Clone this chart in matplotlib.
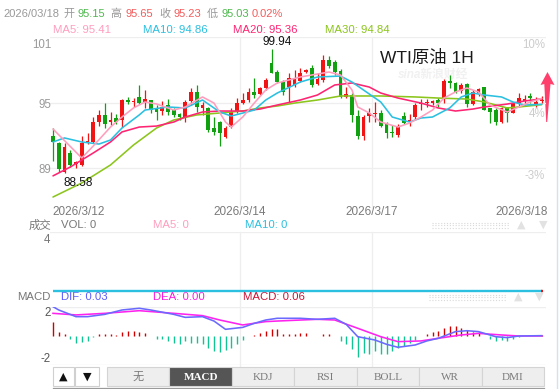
import matplotlib
matplotlib.use('Agg')
import matplotlib.pyplot as plt
from matplotlib.patches import Rectangle, Polygon

plt.rcParams['font.family'] = ['Liberation Sans', 'Noto Sans CJK SC', 'DejaVu Sans']

# ---------------- data ----------------
opens = [91.96, 91.32, 88.70, 90.40, 89.40, 89.30, 91.30, 91.40, 93.25, 93.90,
         93.25, 93.60, 93.43, 95.26, 95.10, 95.50, 95.08, 95.26, 94.50, 94.25,
         94.80, 94.34, 94.00, 93.70, 95.17, 96.00, 94.50, 94.50, 92.70, 93.25,
         91.90, 92.80, 94.16, 94.98, 95.26, 95.99, 95.81, 96.36, 98.66, 97.83,
         96.90, 96.45, 96.64, 97.00, 97.83, 98.20, 96.73, 97.10, 98.93, 98.75,
         97.92, 95.54, 95.72, 93.80, 91.96, 93.80, 94.00, 94.07, 93.06, 92.33,
         92.05, 93.80, 93.25, 93.70, 94.90, 94.98, 94.98, 95.26, 95.35, 97.00,
         96.82, 96.09, 96.73, 94.90, 95.90, 96.45, 94.50, 94.34, 93.25, 94.62,
         94.07, 95.00, 95.17, 95.60, 94.90, 95.15]
highs = [92.69, 91.40, 91.30, 90.67, 89.70, 92.00, 92.20, 93.70, 94.30, 95.00,
         94.16, 94.00, 95.35, 95.50, 95.40, 96.64, 96.20, 95.30, 94.80, 95.20,
         95.35, 94.50, 94.10, 95.26, 96.40, 96.64, 95.08, 94.60, 93.70, 93.30,
         92.90, 94.50, 95.45, 95.90, 96.36, 97.28, 96.45, 97.28, 99.94, 98.00,
         97.10, 97.74, 98.00, 98.20, 98.10, 98.50, 97.74, 99.40, 99.30, 98.93,
         98.10, 96.45, 95.90, 94.34, 93.89, 94.50, 95.08, 94.34, 93.25, 93.00,
         93.06, 94.16, 94.00, 94.98, 95.35, 95.35, 95.30, 95.45, 97.20, 97.55,
         96.90, 96.82, 96.82, 96.18, 96.36, 96.45, 94.50, 94.50, 94.62, 94.62,
         95.08, 95.90, 95.72, 95.90, 95.50, 95.65]
lows = [89.67, 88.65, 88.58, 89.10, 89.00, 89.20, 91.20, 91.30, 92.90, 92.70,
        93.00, 93.10, 92.80, 94.90, 94.60, 94.90, 94.50, 94.10, 93.43, 93.90,
        93.90, 93.70, 93.40, 93.25, 94.80, 94.16, 93.90, 92.30, 92.05, 91.00,
        91.80, 92.70, 94.10, 94.90, 95.08, 95.45, 95.72, 96.20, 97.70, 96.80,
        95.70, 95.08, 96.45, 96.90, 97.70, 96.45, 96.60, 96.90, 98.20, 97.55,
        95.45, 95.40, 93.25, 91.68, 91.59, 93.25, 93.25, 92.78, 91.77, 91.90,
        91.86, 93.06, 92.90, 93.50, 94.30, 94.60, 94.80, 94.62, 95.00, 96.36,
        95.90, 95.90, 94.60, 94.80, 95.64, 94.34, 93.15, 92.97, 93.15, 93.25,
        94.07, 94.62, 94.80, 95.00, 94.60, 95.03]
closes = [91.41, 88.97, 90.95, 89.30, 89.60, 91.30, 91.50, 93.25, 93.90, 93.06,
          93.43, 93.25, 95.26, 95.08, 95.20, 94.98, 95.35, 94.34, 94.16, 94.60,
          94.16, 93.89, 93.70, 95.08, 96.00, 94.62, 94.80, 92.50, 92.30, 92.20,
          92.70, 94.16, 94.98, 95.26, 95.99, 95.72, 96.36, 97.10, 97.74, 96.90,
          96.00, 97.28, 97.28, 97.74, 98.00, 96.64, 97.20, 98.93, 98.38, 97.83,
          95.54, 95.81, 93.89, 91.96, 93.70, 94.07, 94.10, 92.87, 92.23, 92.23,
          92.87, 93.15, 93.43, 94.80, 95.00, 95.08, 95.17, 94.98, 97.00, 96.80,
          96.00, 96.64, 94.90, 96.00, 96.27, 94.34, 94.16, 93.25, 94.50, 94.07,
          94.98, 95.45, 95.35, 95.45, 95.08, 95.23]
change_pct = "0.02%"
last_date = "2026/03/18"

ma5_idx = [0, 5, 7, 10, 12, 14, 16, 18, 21, 23, 26, 28, 30, 31, 33, 35, 37, 39,
           43, 48, 50, 52, 53, 55, 57, 60, 62, 64, 66, 68, 70, 72, 74, 76, 79, 81, 83, 85]
ma5_val = [92.60, 89.94, 91.04, 92.78, 93.70, 94.53, 95.08, 94.90, 94.34, 94.62,
           95.54, 94.98, 93.24, 92.78, 93.70, 94.98, 96.18, 96.82, 97.37, 97.83,
           97.55, 96.18, 94.62, 94.07, 93.24, 92.78, 93.15, 93.70, 94.34, 95.44,
           96.00, 96.36, 96.00, 94.80, 94.16, 94.62, 95.08, 95.41]
ma10_idx = [0, 2, 5, 8, 10, 12, 15, 16, 20, 23, 26, 29, 31, 35, 37, 39, 43, 46,
            50, 52, 54, 57, 59, 62, 64, 66, 69, 71, 73, 75, 78, 80, 82, 85]
ma10_val = [91.41, 91.78, 91.41, 91.22, 91.59, 92.69, 93.89, 94.34, 94.62, 94.53,
            95.26, 94.16, 93.79, 94.34, 95.26, 95.90, 96.91, 97.37, 97.46, 96.91,
            96.18, 95.08, 93.70, 93.24, 93.61, 93.70, 94.53, 95.54, 95.90, 95.72,
            95.54, 95.08, 94.80, 94.86]
ma20_idx = [0, 3, 7, 10, 12, 15, 18, 21, 23, 26, 29, 33, 36, 39, 43, 46, 49, 52,
            55, 57, 60, 64, 67, 70, 73, 75, 79, 82, 85]
ma20_val = [88.30, 89.11, 90.40, 91.41, 92.33, 92.78, 92.87, 93.24, 93.70, 94.16,
            94.25, 94.25, 94.43, 94.80, 95.26, 95.72, 96.64, 96.82, 96.45, 95.90,
            95.44, 94.98, 94.53, 94.25, 94.43, 94.62, 94.89, 95.17, 95.36]
ma30_idx = [0, 5, 10, 14, 18, 21, 25, 29, 33, 36, 39, 42, 46, 50, 54, 57, 63, 67,
            72, 75, 79, 81, 85]
ma30_val = [86.36, 87.65, 89.30, 91.13, 92.69, 93.43, 93.89, 94.07, 94.25, 94.53,
            94.71, 94.98, 95.26, 95.63, 95.63, 95.63, 95.54, 95.44, 95.35, 95.08,
            94.53, 94.62, 94.84]

vol_value = 0
vol_ma5 = 0
vol_ma10 = 0

dif_idx = [0, 1, 4, 6, 9, 12, 15, 17, 21, 23, 26, 28, 30, 33, 35, 37, 39, 43, 46,
           49, 51, 53, 56, 58, 60, 63, 65, 67, 70, 72, 74, 77, 79, 81, 85]
dif_val = [2.55, 2.26, 1.68, 1.68, 1.88, 2.26, 2.41, 2.26, 1.88, 1.62, 1.68, 1.30,
           0.58, 0.75, 1.10, 1.39, 1.54, 1.54, 1.45, 1.54, 1.01, -0.06, -0.35,
           -0.72, -0.98, -0.78, -0.43, -0.20, 0.38, 0.46, 0.38, -0.06, -0.14, 0.00, 0.03]
dea_idx = [0, 4, 9, 15, 21, 26, 29, 33, 37, 39, 46, 49, 53, 57, 60, 64, 67, 71,
           74, 78, 81, 85]
dea_val = [1.97, 1.83, 1.97, 2.20, 1.97, 1.77, 1.39, 0.96, 1.25, 1.30, 1.45, 1.39,
           0.67, -0.06, -0.49, -0.43, -0.20, 0.09, 0.23, 0.09, 0.00, 0.00]
macd_hist = [1.22, 0.35, 0.15, -0.29, -0.64, -0.52, -0.43, -0.05, 0.15, 0.15,
             0.15, 0.12, 0.35, 0.43, 0.43, 0.35, 0.29, 0.02, -0.23, -0.29,
             -0.43, -0.58, -0.72, -0.43, -0.58, -0.64, -0.72, -1.01, -1.30, -1.39,
             -1.25, -1.01, -0.72, -0.35, -0.02, 0.06, 0.23, 0.43, 0.58, 0.64,
             0.20, 0.15, 0.20, 0.29, 0.29, 0.02, 0.02, 0.15, 0.15, 0.01,
             -0.43, -0.72, -1.16, -1.80, -1.45, -1.59, -1.30, -1.59, -1.59, -1.30,
             -1.01, -0.87, -0.58, -0.35, 0.02, 0.15, 0.35, 0.43, 0.72, 0.87,
             0.87, 0.72, 0.52, 0.35, 0.35, 0.02, -0.23, -0.43, -0.35, -0.43,
             -0.29, -0.05, -0.01, 0.01, 0.03, 0.06]

price_ticks = [101, 95, 89]
pct_labels = ["10%", "4%", "-3%"]
pct_pos = [101, 94.7, 89]
date_labels = ["2026/3/12", "2026/3/14", "2026/3/17", "2026/3/18"]
date_pos = [0, 32.5, 55.5, 85]
vol_ticks = [4]
macd_ticks = [2, -2]
tabs = ["无", "MACD", "KDJ", "RSI", "BOLL", "WR", "DMI"]
title = "WTI原油 1H"

# ---------------- style ----------------
W, H = 559, 389
RED = '#f01414'
GREEN = '#10a010'
C_MA5 = '#ff9dbd'
C_MA10 = '#2bc0e0'
C_MA20 = '#ff2472'
C_MA30 = '#8cc51c'
GRID = '#eeeeee'
RED_T = '#f25c5c'
GREEN_T = '#4fb84f'
X0, DX = 53.0, 5.75          # pixel of candle 0, pixel per candle
L, R = 50, 546

fig = plt.figure(figsize=(W / 100, H / 100), dpi=100)
fig.patch.set_facecolor('white')

ov = fig.add_axes([0, 0, 1, 1])
ov.set_xlim(0, W)
ov.set_ylim(H, 0)
ov.axis('off')
ov.set_zorder(0)


def px_axes(top, bottom, z=2):
    ax = fig.add_axes([L / W, 1 - bottom / H, (R - L) / W, (bottom - top) / H])
    ax.set_zorder(z)
    ax.patch.set_alpha(0)
    ax.axis('off')
    ax.set_xlim((L - X0) / DX, (R - X0) / DX)
    return ax


def idx_px(i):
    return X0 + DX * i


# vertical day grid lines across panels
for p in date_pos[1:3]:
    xp = idx_px(p)
    ov.plot([xp, xp], [37, 208], color=GRID, lw=0.9, zorder=0)
    ov.plot([xp, xp], [232, 366], color=GRID, lw=0.9, zorder=0)

# ---------------- price panel ----------------
ax = px_axes(37, 200)
def ppx(y):
    return 99.94 - (y - 49) / 10.9
ax.set_ylim(ppx(200), ppx(37))
for t in price_ticks:
    ax.axhline(t, color=GRID, lw=0.9, zorder=0)

idx = list(range(len(closes)))
cols = [RED if c >= o else GREEN for o, c in zip(opens, closes)]
ax.vlines(idx, lows, highs, colors=cols, lw=0.9, zorder=3)
bottoms = [min(o, c) for o, c in zip(opens, closes)]
heights = [max(abs(c - o), 0.1) for o, c in zip(opens, closes)]
ax.bar(idx, heights, bottom=bottoms, width=0.62, color=cols, linewidth=0, zorder=4)

for xi, yv, cc in [(ma30_idx, ma30_val, C_MA30), (ma20_idx, ma20_val, C_MA20),
                   (ma10_idx, ma10_val, C_MA10), (ma5_idx, ma5_val, C_MA5)]:
    ax.plot(xi, yv, color=cc, lw=1.15, zorder=5, solid_capstyle='round')

hi = max(highs); hi_i = highs.index(hi)
lo = min(lows); lo_i = lows.index(lo)
ax.annotate(f"{hi:.2f}", xy=(hi_i, hi), xytext=(6, 1), textcoords='offset pixels',
            ha='center', va='bottom', fontsize=8.5, color='#111111', zorder=6)
ax.annotate(f"{lo:.2f}", xy=(lo_i, lo), xytext=(-1, -4), textcoords='offset pixels',
            ha='left', va='top', fontsize=8.5, color='#111111', zorder=6)

for t in price_ticks:
    dy = -8 if t == max(price_ticks) else -2
    ax.annotate(str(t), xy=(0, t), xycoords=('axes fraction', 'data'),
                xytext=(1, dy), textcoords='offset pixels', ha='right', va='center',
                fontsize=8.3, color='#999999', annotation_clip=False)
for s, p in zip(pct_labels, pct_pos):
    ax.annotate(s, xy=(1, p), xycoords=('axes fraction', 'data'),
                xytext=(-1, -8), textcoords='offset pixels', ha='right', va='center',
                fontsize=8.3, color='#cccccc', zorder=1, annotation_clip=False)

# date labels
for s, p, ha in zip(date_labels, date_pos, ['left', 'center', 'center', 'right']):
    xp = idx_px(p)
    if ha == 'left':
        xp -= 1
    if ha == 'right':
        xp += 6
    ov.text(xp, 212, s, ha=ha, va='center', fontsize=8.5, color='#7a7a7a')

# ---------------- volume panel ----------------
axv = px_axes(232, 291)
axv.set_ylim(0, 4)
for t in vol_ticks:
    axv.axhline(t, color=GRID, lw=0.9, zorder=0)
    axv.annotate(str(t), xy=(0, t), xycoords=('axes fraction', 'data'),
                 xytext=(0, -8), textcoords='offset pixels', ha='right', va='center',
                 fontsize=8.3, color='#777777', annotation_clip=False)
axv.hlines(vol_ma10, 0, len(closes) - 1, color=C_MA10, lw=1.7, clip_on=False, zorder=3)
axv.hlines(vol_value, len(closes) - 1.2, len(closes) - 0.7, color='#ee1111', lw=1.7,
           clip_on=False, zorder=4)

# ---------------- MACD panel ----------------
axm = px_axes(307, 365)
axm.set_ylim(-2.52, 2.52)
axm.axhline(2.52, color=GRID, lw=1.0, zorder=0)
axm.axhline(-2.52, color=GRID, lw=1.0, zorder=0)
hcols = ['#d00000' if v >= 0 else '#12c493' for v in macd_hist]
axm.vlines(idx, 0, macd_hist, colors=hcols, lw=1.0, zorder=2)
axm.plot(dea_idx, dea_val, color='#ff22ee', lw=1.15, zorder=3)
axm.plot(dif_idx, dif_val, color='#6a6aff', lw=1.15, zorder=4)
for t in macd_ticks:
    axm.annotate(str(t), xy=(0, t), xycoords=('axes fraction', 'data'),
                 xytext=(1, 0), textcoords='offset pixels', ha='right', va='center',
                 fontsize=8.3, color='#555555', annotation_clip=False)

# ---------------- header texts ----------------
row1 = [(last_date, 3, '#999999'), ("开", 63, '#999999'), (f"{opens[-1]:.2f}", 77, GREEN_T),
        ("高", 110, '#999999'), (f"{highs[-1]:.2f}", 126, RED_T),
        ("收", 159, '#999999'), (f"{closes[-1]:.2f}", 174, RED_T),
        ("低", 207, '#999999'), (f"{lows[-1]:.2f}", 222, GREEN_T),
        (change_pct, 252, RED_T)]
for s, x, c in row1:
    ov.text(x, 14, s, ha='left', va='center', fontsize=8, color=c)

row2 = [(f"MA5: {ma5_val[-1]:.2f}", 53, C_MA5), (f"MA10: {ma10_val[-1]:.2f}", 143, C_MA10),
        (f"MA20: {ma20_val[-1]:.2f}", 233, C_MA20), (f"MA30: {ma30_val[-1]:.2f}", 325, C_MA30)]
for s, x, c in row2:
    ov.text(x, 30, s, ha='left', va='center', fontsize=8.2, color=c)

ov.text(380, 58, title, ha='left', va='center', fontsize=12.5, color='#1a1a1a', zorder=6)
ov.text(398, 75, "sina新浪财经", ha='left', va='center', fontsize=8.5, color='#f1f1f1',
        style='italic', fontweight='bold', zorder=1)

vrow = [("成交", 29, '#777777'), (f"VOL: {vol_value}", 61, '#777777'),
        (f"MA5: {vol_ma5}", 153, C_MA5), (f"MA10: {vol_ma10}", 245, C_MA10)]
for s, x, c in vrow:
    ov.text(x, 225, s, ha='left', va='center', fontsize=8.2, color=c)

mrow = [("MACD", 17, '#777777'), (f"DIF: {dif_val[-1]:.2f}", 61, '#5b5bff'),
        (f"DEA: {dea_val[-1]:.2f}", 153, '#ff1ae0'), (f"MACD: {macd_hist[-1]:.2f}", 243, '#cc1133')]
for s, x, c in mrow:
    ov.text(x, 297, s, ha='left', va='center', fontsize=8.2, color=c)

# drag handles and faint arrows
for yc, x1, x2, ax1, ax2 in [(225, 432, 509, 521, 543), (297, 429, 507, 518, 539)]:
    for dy in (-2.5, 0, 2.5):
        ov.plot([x1, x2], [yc + dy, yc + dy], color='#d9d9d9', lw=0.8,
                linestyle=(0, (1, 1.6)))
    ov.text(ax1, yc, "▲", ha='center', va='center', fontsize=8, color='#e2e2e2',
            family=['DejaVu Sans'])
    ov.text(ax2, yc, "▼", ha='center', va='center', fontsize=8, color='#e2e2e2',
            family=['DejaVu Sans'])

# red arrow at right
ov.add_patch(Polygon([(547.5, 72), (554.5, 85), (550.5, 84), (547.2, 122), (546.2, 122),
                      (544.3, 84), (540.5, 85)], closed=True, facecolor='#ff3f6c',
                     edgecolor='none', zorder=6))

# right edge line
ov.plot([557, 557], [0, H], color='#cfe3f3', lw=1.0)

# ---------------- bottom tabs ----------------
ty0, ty1 = 367, 386
ov.add_patch(Rectangle((53, ty0), 21, ty1 - ty0, facecolor='white', edgecolor='#d0d0d0', lw=0.8))
ov.add_patch(Rectangle((75, ty0), 24, ty1 - ty0, facecolor='white', edgecolor='#d0d0d0', lw=0.8))
ov.text(63, (ty0 + ty1) / 2, "▲", ha='center', va='center', fontsize=8, color='#111111',
        family=['DejaVu Sans'])
ov.text(87, (ty0 + ty1) / 2, "▼", ha='center', va='center', fontsize=8, color='#111111',
        family=['DejaVu Sans'])
tx0, tx1 = 107, 544
tw = (tx1 - tx0) / len(tabs)
for k, s in enumerate(tabs):
    x = tx0 + k * tw
    active = (s == "MACD")
    ov.add_patch(Rectangle((x, ty0), tw, ty1 - ty0,
                           facecolor='#555555' if active else '#eeeeee',
                           edgecolor='#d4d4d4', lw=0.8))
    ov.text(x + tw / 2, (ty0 + ty1) / 2 + 0.5, s, ha='center', va='center', fontsize=8,
            color='white' if active else '#7a7a7a',
            family=['Liberation Serif', 'Noto Sans CJK SC'],
            fontweight='bold' if active else 'normal')
ov.plot([53, 544], [ty1 + 1.5, ty1 + 1.5], color='#9a9a9a', lw=0.9)

fig.savefig('out.png', dpi=100, facecolor='white')
